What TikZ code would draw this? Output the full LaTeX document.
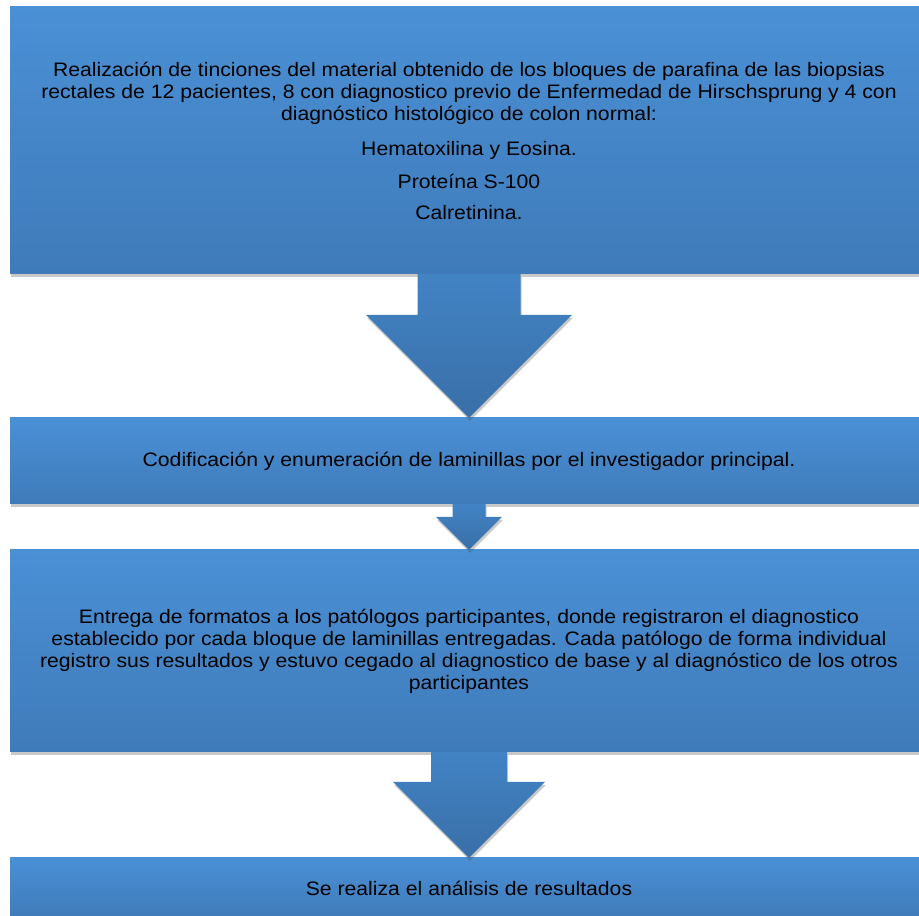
\documentclass[tikz,border=0pt]{standalone}
\usepackage{fontspec}
\setmainfont[FakeStretch=1.087]{Liberation Sans}
\usetikzlibrary{shadows,calc}
\definecolor{cajaarriba}{RGB}{74,144,213}
\definecolor{cajaabajo}{RGB}{63,123,186}
\definecolor{flechaarriba}{RGB}{66,131,196}
\definecolor{flechaabajo}{RGB}{57,111,168}

\newcommand{\flecha}[3]{%
  \path[flecha] let \p1=(#1.south), \p2=(#2.north) in
    (\x1-#3,\y1) -- (\x1+#3,\y1) -- (\x1+#3,\y2+2*#3) -- (\x1+2*#3,\y2+2*#3)
    -- (\x2,\y2) -- (\x1-2*#3,\y2+2*#3) -- (\x1-#3,\y2+2*#3) -- cycle;}

\begin{document}
\begin{tikzpicture}[x=1pt,y=1pt,
  sombra/.style={drop shadow={shadow xshift=1pt,shadow yshift=-3pt,
                              opacity=.3,fill=black!70}},
  caja/.style={minimum width=918pt,inner sep=0pt,align=center,
               font=\fontsize{19.5}{22}\selectfont,
               top color=cajaarriba,bottom color=cajaabajo,sombra},
  flecha/.style={top color=flechaarriba,bottom color=flechaabajo,sombra}]
  \useasboundingbox (0,0) rectangle (919,916);
  \node[caja,minimum height=267pt] (tinciones) at (469,775.5)
    {Realización de tinciones del material obtenido de los bloques de parafina de las biopsias\\
     rectales de 12 pacientes, 8 con diagnostico previo de Enfermedad de Hirschsprung y 4 con\\
     diagnóstico histológico de colon normal:\\[13pt]
     Hematoxilina y Eosina.\\[11pt]
     Proteína S-100\\[9pt]
     Calretinina.};
  \node[caja,minimum height=86pt] (codificacion) at (469,455)
    {Codificación y enumeración de laminillas por el investigador principal.};
  \node[caja,minimum height=202pt] (entrega) at (469,265)
    {Entrega de formatos a los patólogos participantes, donde registraron el diagnostico\\
     establecido por cada bloque de laminillas entregadas. Cada patólogo de forma individual\\
     registro sus resultados y estuvo cegado al diagnostico de base y al diagnóstico de los otros\\
     participantes};
  \node[caja,minimum height=60pt] (analisis) at (469,28)
    {Se realiza el análisis de resultados};
  \flecha{tinciones}{codificacion}{51.5pt}
  \flecha{codificacion}{entrega}{16.5pt}
  \flecha{entrega}{analisis}{38pt}
\end{tikzpicture}
\end{document}
